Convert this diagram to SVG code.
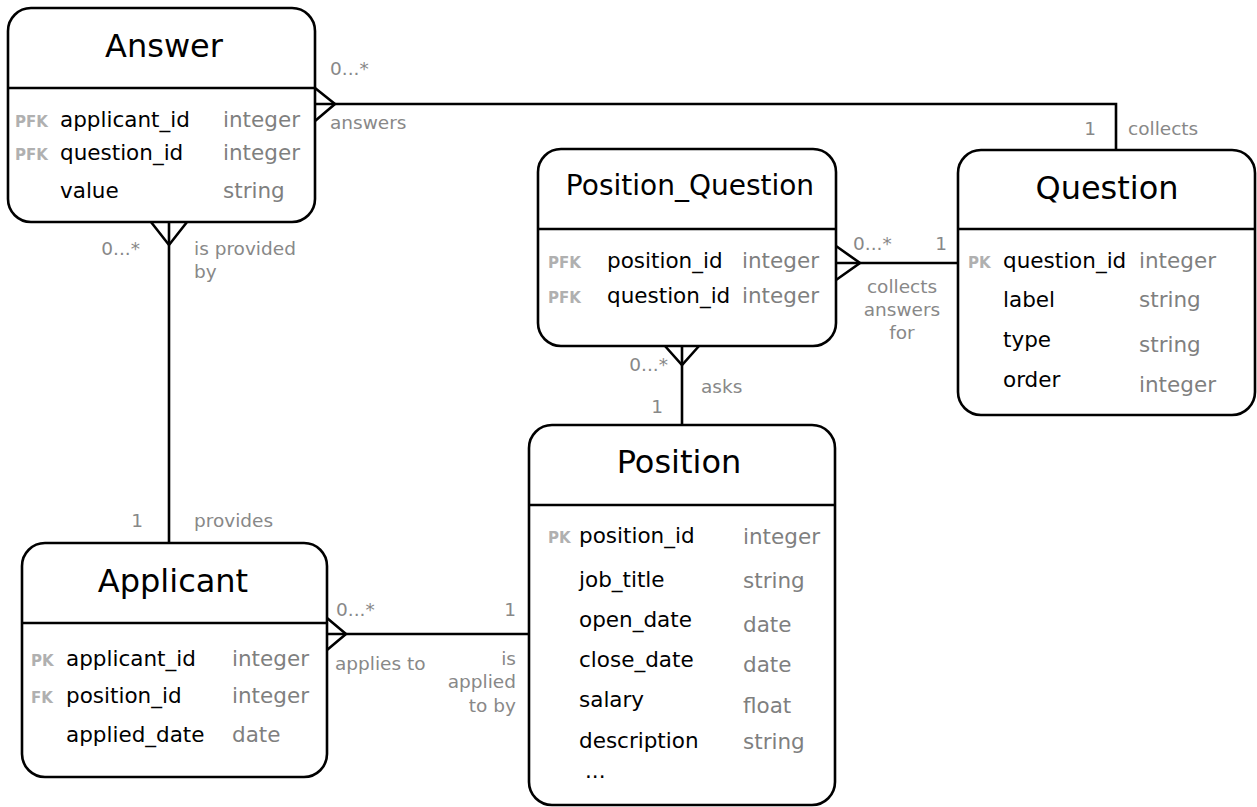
<svg xmlns="http://www.w3.org/2000/svg" width="1257" height="807" viewBox="0 0 1257 807">
  <style>
    text { font-family: "DejaVu Sans", "Liberation Sans", sans-serif; }
    .box { fill: #ffffff; stroke: #000000; stroke-width: 2.6; }
    .div { stroke: #000000; stroke-width: 2.6; }
    .title { font-size: 32px; fill: #000000; text-anchor: middle; }
    .title-sm { font-size: 28px; fill: #000000; text-anchor: middle; }
    .name { font-size: 21.5px; fill: #000000; }
    .type { font-size: 21.5px; fill: #7f7f7f; }
    .key { font-size: 15px; font-weight: bold; fill: #b0b0b0; }
    .lbl { font-size: 18.5px; fill: #888888; }
    .end { text-anchor: end; }
    .mid { text-anchor: middle; }
    .line { fill: none; stroke: #000000; stroke-width: 2.6; }
  </style>

  <!-- relationships -->
  <g id="connectors">
    <!-- Answer to Question -->
    <path class="line" d="M315,104 H1116 V150"/>
    <path class="line" d="M315,88 L335,104 L315,121"/>
    <text class="lbl" x="330" y="75">0...*</text>
    <text class="lbl" x="330" y="129">answers</text>
    <text class="lbl end" x="1096" y="135">1</text>
    <text class="lbl" x="1128" y="135">collects</text>

    <!-- Answer to Applicant -->
    <path class="line" d="M169,222 V543"/>
    <path class="line" d="M151,222 L169,245 L187,222"/>
    <text class="lbl end" x="140" y="255">0...*</text>
    <text class="lbl" x="194" y="255">is provided</text>
    <text class="lbl" x="194" y="278">by</text>
    <text class="lbl end" x="143" y="527">1</text>
    <text class="lbl" x="194" y="527">provides</text>

    <!-- Position_Question to Question -->
    <path class="line" d="M836,263 H958"/>
    <path class="line" d="M836,246 L860,263 L836,280"/>
    <text class="lbl" x="853" y="250">0...*</text>
    <text class="lbl end" x="947" y="250">1</text>
    <text class="lbl mid" x="902" y="293">collects</text>
    <text class="lbl mid" x="902" y="316">answers</text>
    <text class="lbl mid" x="902" y="339">for</text>

    <!-- Position_Question to Position -->
    <path class="line" d="M682,346 V425"/>
    <path class="line" d="M665,346 L682,365 L699,346"/>
    <text class="lbl end" x="668" y="371">0...*</text>
    <text class="lbl" x="701" y="393">asks</text>
    <text class="lbl end" x="663" y="413">1</text>

    <!-- Applicant to Position -->
    <path class="line" d="M327,634 H529"/>
    <path class="line" d="M327,618 L346,634 L327,650"/>
    <text class="lbl" x="336" y="616">0...*</text>
    <text class="lbl end" x="516" y="616">1</text>
    <text class="lbl" x="335" y="670">applies to</text>
    <text class="lbl end" x="516" y="665">is</text>
    <text class="lbl end" x="516" y="688">applied</text>
    <text class="lbl end" x="516" y="712">to by</text>
  </g>

  <!-- entities -->
  <g id="answer">
    <rect class="box" x="8" y="8" width="307" height="214" rx="23"/>
    <line class="div" x1="8" y1="88" x2="315" y2="88"/>
    <text class="title" x="164" y="57">Answer</text>
    <text class="key" x="15" y="127">PFK</text>
    <text class="name" x="60" y="127">applicant_id</text>
    <text class="type" x="223" y="127">integer</text>
    <text class="key" x="15" y="160">PFK</text>
    <text class="name" x="60" y="160">question_id</text>
    <text class="type" x="223" y="160">integer</text>
    <text class="name" x="60" y="198">value</text>
    <text class="type" x="223" y="198">string</text>
  </g>

  <g id="position_question">
    <rect class="box" x="538" y="149" width="298" height="197" rx="23"/>
    <line class="div" x1="538" y1="229" x2="836" y2="229"/>
    <text class="title-sm" x="690" y="195">Position_Question</text>
    <text class="key" x="548" y="268">PFK</text>
    <text class="name" x="607" y="268">position_id</text>
    <text class="type" x="742" y="268">integer</text>
    <text class="key" x="548" y="303">PFK</text>
    <text class="name" x="607" y="303">question_id</text>
    <text class="type" x="742" y="303">integer</text>
  </g>

  <g id="question">
    <rect class="box" x="958" y="150" width="297" height="265" rx="23"/>
    <line class="div" x1="958" y1="229" x2="1255" y2="229"/>
    <text class="title" x="1107" y="199">Question</text>
    <text class="key" x="968" y="268">PK</text>
    <text class="name" x="1003" y="268">question_id</text>
    <text class="type" x="1139" y="268">integer</text>
    <text class="name" x="1003" y="307">label</text>
    <text class="type" x="1139" y="307">string</text>
    <text class="name" x="1003" y="347">type</text>
    <text class="type" x="1139" y="352">string</text>
    <text class="name" x="1003" y="387">order</text>
    <text class="type" x="1139" y="392">integer</text>
  </g>

  <g id="position">
    <rect class="box" x="529" y="425" width="306" height="380" rx="23"/>
    <line class="div" x1="529" y1="505" x2="835" y2="505"/>
    <text class="title" x="679" y="473">Position</text>
    <text class="key" x="548" y="543">PK</text>
    <text class="name" x="579" y="543">position_id</text>
    <text class="type" x="743" y="544">integer</text>
    <text class="name" x="579" y="587">job_title</text>
    <text class="type" x="743" y="588">string</text>
    <text class="name" x="579" y="627">open_date</text>
    <text class="type" x="743" y="632">date</text>
    <text class="name" x="579" y="667">close_date</text>
    <text class="type" x="743" y="672">date</text>
    <text class="name" x="579" y="707">salary</text>
    <text class="type" x="743" y="713">float</text>
    <text class="name" x="579" y="748">description</text>
    <text class="type" x="743" y="749">string</text>
    <text class="name" x="585" y="778">...</text>
  </g>

  <g id="applicant">
    <rect class="box" x="22" y="543" width="305" height="234" rx="23"/>
    <line class="div" x1="22" y1="623" x2="327" y2="623"/>
    <text class="title" x="173" y="592">Applicant</text>
    <text class="key" x="31" y="666">PK</text>
    <text class="name" x="66" y="666">applicant_id</text>
    <text class="type" x="232" y="666">integer</text>
    <text class="key" x="31" y="703">FK</text>
    <text class="name" x="66" y="703">position_id</text>
    <text class="type" x="232" y="703">integer</text>
    <text class="name" x="66" y="742">applied_date</text>
    <text class="type" x="232" y="742">date</text>
  </g>
</svg>
